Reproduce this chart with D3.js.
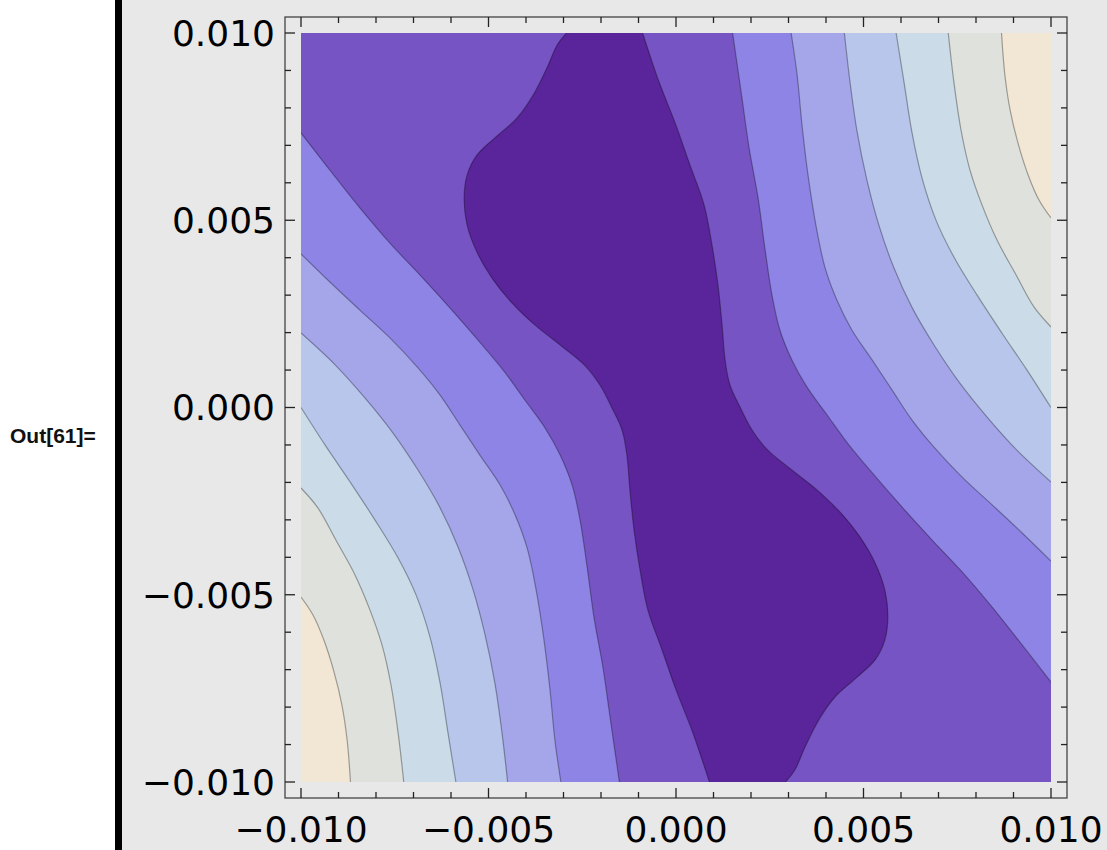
<!DOCTYPE html>
<html>
<head>
<meta charset="utf-8">
<script src="https://cdn.jsdelivr.net/npm/d3@7"></script>
<style>
body { margin: 0; background: #fff; }
text { font-family: "DejaVu Sans", sans-serif; }
</style>
</head>
<body>
<svg id="chart" width="1107" height="850"></svg>
<script>
// contour lines, [x, y], each from its top (or left edge) end downwards
// left-hand lines, innermost (edge of the dark core) first
var left1 = [[-0.00292, 0.01], [-0.00317, 0.00968], [-0.00344, 0.00907], [-0.00381, 0.00834], [-0.00424, 0.00773],
	[-0.00483, 0.00720], [-0.00531, 0.00674], [-0.00557, 0.00621], [-0.00565, 0.00559], [-0.00557, 0.00487],
	[-0.00531, 0.00415], [-0.00491, 0.00346], [-0.00440, 0.00282], [-0.00376, 0.00220], [-0.00309, 0.00167],
	[-0.00245, 0.00114], [-0.00203, 0.00060], [-0.00171, -0.00001], [-0.00144, -0.00060], [-0.00131, -0.00127],
	[-0.00123, -0.00220], [-0.00112, -0.00327], [-0.00096, -0.00434], [-0.00075, -0.00541], [-0.00037, -0.00648],
	[0.00000, -0.00754], [0.00045, -0.00869], [0.00089, -0.01]];
var left2 = [[-0.01, 0.00733], [-0.00923, 0.00634], [-0.00843, 0.00533], [-0.00763, 0.00439], [-0.00683, 0.00354],
	[-0.00603, 0.00266], [-0.00528, 0.00180], [-0.00461, 0.00100], [-0.00403, 0.00020], [-0.00349, -0.00055],
	[-0.00309, -0.00127], [-0.00277, -0.00207], [-0.00256, -0.00300], [-0.00237, -0.00426], [-0.00219, -0.00559],
	[-0.00195, -0.00693], [-0.00176, -0.00826], [-0.00151, -0.01]];
var left3 = [[-0.01, 0.00410], [-0.00923, 0.00335], [-0.00843, 0.00260], [-0.00763, 0.00186], [-0.00688, 0.00106],
	[-0.00629, 0.00033], [-0.00576, -0.00047], [-0.00523, -0.00127], [-0.00469, -0.00207], [-0.00429, -0.00287],
	[-0.00397, -0.00375], [-0.00373, -0.00487], [-0.00352, -0.00621], [-0.00336, -0.00754], [-0.00323, -0.00888],
	[-0.00307, -0.01]];
var left4 = [[-0.01, 0.00199], [-0.00909, 0.00114], [-0.00829, 0.00025], [-0.00757, -0.00065], [-0.00688, -0.00167],
	[-0.00629, -0.00268], [-0.00581, -0.00373], [-0.00541, -0.00487], [-0.00509, -0.00608], [-0.00483, -0.00736],
	[-0.00464, -0.00869], [-0.00449, -0.01]];
var left5 = [[-0.01, 0.00000], [-0.00936, -0.00100], [-0.00869, -0.00199], [-0.00803, -0.00300], [-0.00741, -0.00402],
	[-0.00693, -0.00501], [-0.00656, -0.00613], [-0.00629, -0.00736], [-0.00608, -0.00869], [-0.00587, -0.01]];
var left6 = [[-0.01, -0.00215], [-0.00955, -0.00268], [-0.00907, -0.00354], [-0.00856, -0.00447], [-0.00816, -0.00541],
	[-0.00784, -0.00634], [-0.00760, -0.00741], [-0.00741, -0.00869], [-0.00726, -0.01]];
var left7 = [[-0.01, -0.00506], [-0.00968, -0.00554], [-0.00939, -0.00621], [-0.00912, -0.00706], [-0.00891, -0.00794],
	[-0.00877, -0.00888], [-0.00868, -0.01]];

// right-hand lines, same order
var right1 = [[-0.00089, 0.01], [-0.00045, 0.00869], [0.00000, 0.00754], [0.00037, 0.00648], [0.00075, 0.00541],
	[0.00096, 0.00434], [0.00112, 0.00327], [0.00123, 0.00220], [0.00131, 0.00127], [0.00144, 0.00060],
	[0.00171, 0.00001], [0.00203, -0.00060], [0.00245, -0.00114], [0.00309, -0.00167], [0.00376, -0.00220],
	[0.00440, -0.00282], [0.00491, -0.00346], [0.00531, -0.00415], [0.00557, -0.00487], [0.00565, -0.00559],
	[0.00557, -0.00621], [0.00531, -0.00674], [0.00483, -0.00720], [0.00424, -0.00773], [0.00381, -0.00834],
	[0.00344, -0.00907], [0.00317, -0.00968], [0.00292, -0.01]];
var right2 = [[0.00151, 0.01], [0.00176, 0.00826], [0.00195, 0.00693], [0.00219, 0.00559], [0.00237, 0.00426],
	[0.00256, 0.00300], [0.00277, 0.00207], [0.00309, 0.00127], [0.00349, 0.00055], [0.00403, -0.00020],
	[0.00461, -0.00100], [0.00528, -0.00180], [0.00603, -0.00266], [0.00683, -0.00354], [0.00763, -0.00439],
	[0.00843, -0.00533], [0.00923, -0.00634], [0.01, -0.00733]];
var right3 = [[0.00307, 0.01], [0.00323, 0.00888], [0.00336, 0.00754], [0.00352, 0.00621], [0.00373, 0.00487],
	[0.00397, 0.00375], [0.00429, 0.00287], [0.00469, 0.00207], [0.00523, 0.00127], [0.00576, 0.00047],
	[0.00629, -0.00033], [0.00688, -0.00106], [0.00763, -0.00186], [0.00843, -0.00260], [0.00923, -0.00335],
	[0.01, -0.00410]];
var right4 = [[0.00449, 0.01], [0.00464, 0.00869], [0.00483, 0.00736], [0.00509, 0.00608], [0.00541, 0.00487],
	[0.00581, 0.00373], [0.00629, 0.00268], [0.00688, 0.00167], [0.00757, 0.00065], [0.00829, -0.00025],
	[0.00909, -0.00114], [0.01, -0.00199]];
var right5 = [[0.00587, 0.01], [0.00608, 0.00869], [0.00629, 0.00736], [0.00656, 0.00613], [0.00693, 0.00501],
	[0.00741, 0.00402], [0.00803, 0.00300], [0.00869, 0.00199], [0.00936, 0.00100], [0.01, 0.00000]];
var right6 = [[0.00726, 0.01], [0.00741, 0.00869], [0.00760, 0.00741], [0.00784, 0.00634], [0.00816, 0.00541],
	[0.00856, 0.00447], [0.00907, 0.00354], [0.00955, 0.00268], [0.01, 0.00215]];
var right7 = [[0.00868, 0.01], [0.00877, 0.00888], [0.00891, 0.00794], [0.00912, 0.00706], [0.00939, 0.00621],
	[0.00968, 0.00554], [0.01, 0.00506]];

// fill of each band, dark core first, outermost (corners) last
var bandColors = ["#5a249b", "#7654c4", "#8e84e6", "#a5a6ea", "#b8c6ec", "#cbdbe8", "#dfe1dc", "#f2e6d5"];

var majorTicks = [-0.010, -0.005, 0, 0.005, 0.010];
var tickLabels = ["\u22120.010", "\u22120.005", "0.000", "0.005", "0.010"];

var svg = d3.select("#chart");

// notebook cell background, bracket and label
svg.append("rect").attr("x", 122).attr("y", 0).attr("width", 985).attr("height", 850).attr("fill", "#e8e8e8");
svg.append("rect").attr("x", 115).attr("y", 0).attr("width", 7).attr("height", 850).attr("fill", "#000");
svg.append("text")
	.attr("x", 10).attr("y", 443)
	.style("font-family", "'Liberation Sans', Arial, sans-serif")
	.style("font-weight", "bold").style("font-size", "21px")
	.attr("fill", "#111")
	.text("Out[61]=");

var x = d3.scaleLinear().domain([-0.01, 0.01]).range([301, 1051]);
var y = d3.scaleLinear().domain([-0.01, 0.01]).range([782, 33]);

svg.append("clipPath").attr("id", "plotClip")
	.append("rect")
	.attr("x", x(-0.01)).attr("y", y(0.01))
	.attr("width", x(0.01) - x(-0.01)).attr("height", y(-0.01) - y(0.01));

var g = svg.append("g").attr("clip-path", "url(#plotClip)");

g.append("rect")
	.attr("x", x(-0.01)).attr("y", y(0.01))
	.attr("width", x(0.01) - x(-0.01)).attr("height", y(-0.01) - y(0.01))
	.attr("fill", bandColors[0]);

var line = d3.line()
	.x(function(d) { return x(d[0]); })
	.y(function(d) { return y(d[1]); })
	.curve(d3.curveCatmullRom.alpha(0.5));

var corner = function(p) { return "L" + x(p[0]) + "," + y(p[1]); };

var lefts = [left1, left2, left3, left4, left5, left6, left7];
var rights = [right1, right2, right3, right4, right5, right6, right7];

// region outside each line is painted over the previous one
lefts.forEach(function(pts, i) {
	var extra = [[-0.011, -0.011]];
	if (pts[0][1] >= 0.01) extra.push([-0.011, 0.011]);
	g.append("path")
		.attr("d", line(pts) + extra.map(corner).join("") + "Z")
		.attr("fill", bandColors[i + 1]);
});
rights.forEach(function(pts, i) {
	var extra = [];
	if (pts[pts.length - 1][1] <= -0.01) extra.push([0.011, -0.011]);
	extra.push([0.011, 0.011]);
	g.append("path")
		.attr("d", line(pts) + extra.map(corner).join("") + "Z")
		.attr("fill", bandColors[i + 1]);
});

g.selectAll("path.contour")
	.data(lefts.concat(rights))
	.enter().append("path")
	.attr("class", "contour")
	.attr("d", line)
	.attr("fill", "none")
	.attr("stroke", "#000")
	.attr("stroke-opacity", 0.33)
	.attr("stroke-width", 1.2);

// frame with inward ticks on all sides
var fx0 = 285, fx1 = 1067, fy0 = 17, fy1 = 798;
svg.append("rect")
	.attr("x", fx0).attr("y", fy0).attr("width", fx1 - fx0).attr("height", fy1 - fy0)
	.attr("fill", "none").attr("stroke", "#444").attr("stroke-width", 1.3);

var isMajor = function(t) {
	return majorTicks.some(function(m) { return Math.abs(m - t) < 1e-9; });
};
var ticks = x.ticks(20);
var tg = svg.append("g").attr("stroke", "#222").attr("stroke-width", 1.3);
ticks.forEach(function(t) {
	var len = isMajor(t) ? 10 : 6;
	tg.append("line").attr("x1", x(t)).attr("x2", x(t)).attr("y1", fy1).attr("y2", fy1 - len);
	tg.append("line").attr("x1", x(t)).attr("x2", x(t)).attr("y1", fy0).attr("y2", fy0 + len);
	tg.append("line").attr("y1", y(t)).attr("y2", y(t)).attr("x1", fx0).attr("x2", fx0 + len);
	tg.append("line").attr("y1", y(t)).attr("y2", y(t)).attr("x1", fx1).attr("x2", fx1 - len);
});

svg.append("g").selectAll("text")
	.data(majorTicks)
	.enter().append("text")
	.attr("x", function(d) { return x(d); })
	.attr("y", 842)
	.attr("text-anchor", "middle")
	.style("font-size", "36px")
	.attr("fill", "#000")
	.text(function(d, i) { return tickLabels[i]; });

svg.append("g").selectAll("text")
	.data(majorTicks)
	.enter().append("text")
	.attr("x", 275)
	.attr("y", function(d) { return y(d); })
	.attr("dy", "0.36em")
	.attr("text-anchor", "end")
	.style("font-size", "36px")
	.attr("fill", "#000")
	.text(function(d, i) { return tickLabels[i]; });
</script>
</body>
</html>
